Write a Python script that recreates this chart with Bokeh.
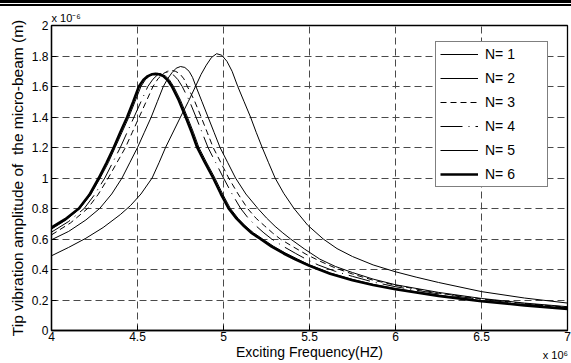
from bokeh.plotting import figure
from bokeh.models import Range1d, FixedTicker, Legend, LegendItem, LinearAxis, Div
from bokeh.layouts import column
from bokeh.embed import file_html
from bokeh.resources import INLINE

FONT = "Liberation Sans"

# ---- data (frequency in 1e6 Hz, amplitude in 1e-6 m) ----
n1_x = [4.0, 4.1, 4.2, 4.3, 4.4, 4.46, 4.52, 4.585, 4.625, 4.663, 4.75, 4.795, 4.837, 4.87, 4.90, 4.93, 4.96,
        4.99, 5.02, 5.05, 5.083, 5.12, 5.157, 5.19, 5.225, 5.262, 5.30, 5.35, 5.41, 5.49, 5.58, 5.66, 5.75,
        5.87, 6.0, 6.12, 6.25, 6.5, 6.75, 7.0]
n1_y = [0.49, 0.545, 0.605, 0.675, 0.76, 0.82, 0.895, 1.0, 1.1, 1.2, 1.4, 1.5, 1.6, 1.68, 1.74, 1.79, 1.815,
        1.805, 1.765, 1.70, 1.6, 1.5, 1.4, 1.3, 1.2, 1.10, 1.0, 0.9, 0.8, 0.69, 0.6, 0.537, 0.485,
        0.43, 0.385, 0.35, 0.315, 0.255, 0.213, 0.18]

n2_x = [4.0, 4.1, 4.2, 4.28, 4.35, 4.41, 4.455, 4.50, 4.54, 4.58, 4.615, 4.65, 4.675, 4.70, 4.725, 4.75,
        4.775, 4.80, 4.82, 4.84, 4.875, 4.91, 4.945, 4.98, 5.025, 5.07, 5.13, 5.20, 5.25, 5.30, 5.345, 5.39,
        5.47, 5.56, 5.65, 5.75, 5.87, 6.0, 6.25, 6.5, 6.75, 7.0]
n2_y = [0.595, 0.65, 0.725, 0.8, 0.895, 1.0, 1.10, 1.2, 1.30, 1.4, 1.50, 1.6, 1.65, 1.69, 1.72, 1.731,
        1.725, 1.70, 1.66, 1.6, 1.50, 1.4, 1.30, 1.2, 1.10, 1.0, 0.895, 0.8, 0.738, 0.683, 0.64, 0.6,
        0.535, 0.468, 0.42, 0.38, 0.337, 0.30, 0.25, 0.21, 0.18, 0.156]

n3_x = [4.0, 4.11, 4.21, 4.27, 4.33, 4.38, 4.43, 4.47, 4.51, 4.55, 4.59, 4.62, 4.65, 4.675, 4.70, 4.72,
        4.745, 4.77, 4.79, 4.83, 4.87, 4.905, 4.94, 4.985, 5.03, 5.085, 5.14, 5.19, 5.24, 5.285, 5.33,
        5.40, 5.48, 5.56, 5.65, 5.75, 5.87, 6.0, 6.25, 6.5, 6.75, 7.0]
n3_y = [0.627, 0.705, 0.8, 0.89, 1.0, 1.10, 1.2, 1.30, 1.4, 1.50, 1.6, 1.652, 1.685, 1.700, 1.705, 1.700,
        1.685, 1.65, 1.6, 1.51, 1.4, 1.30, 1.2, 1.10, 1.0, 0.895, 0.8, 0.735, 0.685, 0.64, 0.6,
        0.552, 0.50, 0.455, 0.41, 0.37, 0.33, 0.297, 0.245, 0.207, 0.177, 0.153]

n4_x = [4.0, 4.1, 4.19, 4.25, 4.31, 4.355, 4.40, 4.44, 4.48, 4.52, 4.56, 4.59, 4.615, 4.64, 4.665, 4.69,
        4.71, 4.735, 4.76, 4.80, 4.84, 4.875, 4.91, 4.955, 5.0, 5.05, 5.1, 5.145, 5.19, 5.235, 5.28,
        5.35, 5.42, 5.48, 5.55, 5.65, 5.75, 5.87, 6.0, 6.25, 6.5, 6.75, 7.0]
n4_y = [0.645, 0.715, 0.8, 0.89, 1.0, 1.10, 1.2, 1.30, 1.4, 1.50, 1.6, 1.648, 1.675, 1.689, 1.694, 1.688,
        1.675, 1.645, 1.6, 1.51, 1.4, 1.30, 1.2, 1.10, 1.0, 0.895, 0.8, 0.735, 0.685, 0.64, 0.6,
        0.55, 0.505, 0.468, 0.43, 0.388, 0.355, 0.318, 0.287, 0.24, 0.203, 0.173, 0.15]

n5_x = [4.0, 4.085, 4.165, 4.228, 4.283, 4.33, 4.37, 4.41, 4.45, 4.485, 4.52, 4.547, 4.572, 4.595, 4.615,
        4.635, 4.66, 4.685, 4.71, 4.75, 4.79, 4.825, 4.857, 4.90, 4.95, 4.995, 5.04, 5.085, 5.13, 5.175,
        5.225, 5.29, 5.36, 5.43, 5.5, 5.62, 5.75, 5.87, 6.0, 6.25, 6.5, 6.75, 7.0]
n5_y = [0.665, 0.725, 0.8, 0.89, 1.0, 1.10, 1.2, 1.30, 1.4, 1.50, 1.6, 1.647, 1.671, 1.683, 1.686,
        1.683, 1.671, 1.645, 1.6, 1.51, 1.4, 1.30, 1.2, 1.105, 1.0, 0.895, 0.8, 0.735, 0.683, 0.64,
        0.602, 0.553, 0.508, 0.469, 0.43, 0.377, 0.335, 0.302, 0.275, 0.231, 0.195, 0.168, 0.145]

n6_x = [4.0, 4.08, 4.159, 4.22, 4.275, 4.32, 4.362, 4.40, 4.44, 4.475, 4.508, 4.535, 4.56, 4.585, 4.605,
        4.625, 4.65, 4.675, 4.70, 4.74, 4.78, 4.815, 4.847, 4.89, 4.94, 4.985, 5.03, 5.075, 5.12, 5.165,
        5.215, 5.28, 5.35, 5.42, 5.5, 5.62, 5.75, 5.87, 6.0, 6.25, 6.5, 6.75, 7.0]
n6_y = [0.675, 0.73, 0.8, 0.89, 1.0, 1.10, 1.2, 1.30, 1.4, 1.50, 1.6, 1.645, 1.668, 1.680, 1.683,
        1.680, 1.668, 1.642, 1.6, 1.51, 1.4, 1.30, 1.2, 1.105, 1.0, 0.895, 0.8, 0.735, 0.683, 0.638,
        0.6, 0.55, 0.505, 0.465, 0.425, 0.372, 0.33, 0.298, 0.27, 0.227, 0.192, 0.165, 0.142]

series_labels = ["N= 1", "N= 2", "N= 3", "N= 4", "N= 5", "N= 6"]

x_ticks = [4, 4.5, 5, 5.5, 6, 6.5, 7]
x_tick_labels = ["4", "4.5", "5", "5.5", "6", "6.5", "7"]
y_ticks = [0, 0.2, 0.4, 0.6, 0.8, 1.0, 1.2, 1.4, 1.6, 1.8, 2.0]
y_tick_labels = ["0", "0.2", "0.4", "0.6", "0.8", "1", "1.2", "1.4", "1.6", "1.8", "2"]
y_exponent = "x 10\u207b\u2076"
x_exponent = "x 10\u2076"

p = figure(width=571, height=357, output_backend="svg", toolbar_location=None,
           x_range=Range1d(4, 7), y_range=Range1d(0, 2),
           min_border_left=51, min_border_right=4, min_border_top=19, min_border_bottom=33)
p.background_fill_color = "white"
p.border_fill_color = "white"
p.outline_line_color = "black"
p.outline_line_width = 1.3

# y exponent as the (left aligned) title
p.title.text = y_exponent
p.title.align = "left"
p.title.text_font = FONT
p.title.text_font_size = "11px"
p.title.text_font_style = "normal"
p.title.text_color = "black"
p.title.standoff = 4
p.title.offset = 0

for g in (p.xgrid, p.ygrid):
    g.grid_line_color = "#4a4a4a"
    g.grid_line_dash = "7 4"
    g.grid_line_width = 1

p.xaxis.ticker = FixedTicker(ticks=x_ticks)
p.xaxis.major_label_overrides = {t: l for t, l in zip(x_ticks, x_tick_labels)}
p.yaxis.ticker = FixedTicker(ticks=y_ticks)
p.yaxis.major_label_overrides = {t: l for t, l in zip(y_ticks, y_tick_labels)}
for ax in (p.xaxis, p.yaxis):
    ax.axis_line_color = "black"
    ax.axis_line_width = 1.3
    ax.major_tick_in = 5
    ax.major_tick_out = 0
    ax.minor_tick_line_color = None
    ax.major_tick_line_color = "black"
    ax.major_label_text_font = FONT
    ax.major_label_text_font_size = "12px"
    ax.major_label_text_color = "black"
    ax.axis_label_text_font = FONT
    ax.axis_label_text_font_style = "normal"
    ax.axis_label_text_color = "black"
p.xaxis.axis_label_text_font_size = "14px"
p.yaxis.axis_label_text_font_size = "15.5px"
p.xaxis.major_label_standoff = 1
p.yaxis.major_label_standoff = 3
p.xaxis.axis_label = "Exciting Frequency(HZ)"
p.xaxis.axis_label_standoff = 0
p.yaxis.axis_label = "Tip vibration amplitude of\u00a0 the micro-beam (m)"
p.yaxis.axis_label_standoff = 3

# x exponent: an extra bottom axis carrying a single label near the right end
x_exp_pos = 6.93
ax2 = LinearAxis(ticker=FixedTicker(ticks=[x_exp_pos]),
                 major_label_overrides={x_exp_pos: x_exponent},
                 axis_line_color=None, major_tick_line_color=None, minor_tick_line_color=None,
                 major_tick_in=0, major_tick_out=0, major_label_standoff=-14,
                 major_label_text_font=FONT, major_label_text_font_size="11px",
                 major_label_text_color="black")
p.add_layout(ax2, "below")

r1 = p.line(n1_x, n1_y, line_color="black", line_width=1)
r2 = p.line(n2_x, n2_y, line_color="black", line_width=1)
r3 = p.line(n3_x, n3_y, line_color="black", line_width=1, line_dash="6 4")
r4 = p.line(n4_x, n4_y, line_color="black", line_width=1, line_dash="22 6 1 6")
r5 = p.line(n5_x, n5_y, line_color="black", line_width=1)
r6 = p.line(n6_x, n6_y, line_color="black", line_width=2.6)

items = [LegendItem(label=l, renderers=[r]) for l, r in zip(series_labels, [r1, r2, r3, r4, r5, r6])]
legend = Legend(items=items, location=(384, 143), orientation="vertical",
                label_text_font=FONT, label_text_font_size="14px", label_text_color="black",
                glyph_width=38, glyph_height=16, label_height=16, label_width=58,
                label_standoff=7, spacing=8, padding=4, margin=0,
                border_line_color="black", border_line_width=1.2,
                background_fill_color="white", background_fill_alpha=1)
p.add_layout(legend, "center")

rule = Div(text="", width=571, height=6, margin=0,
           styles={"border-top": "3px solid #000", "border-bottom": "2px solid #000",
                   "box-sizing": "border-box", "background-color": "white"})

layout = column(rule, p, spacing=0)
open("out.html", "w").write(file_html(layout, INLINE))
